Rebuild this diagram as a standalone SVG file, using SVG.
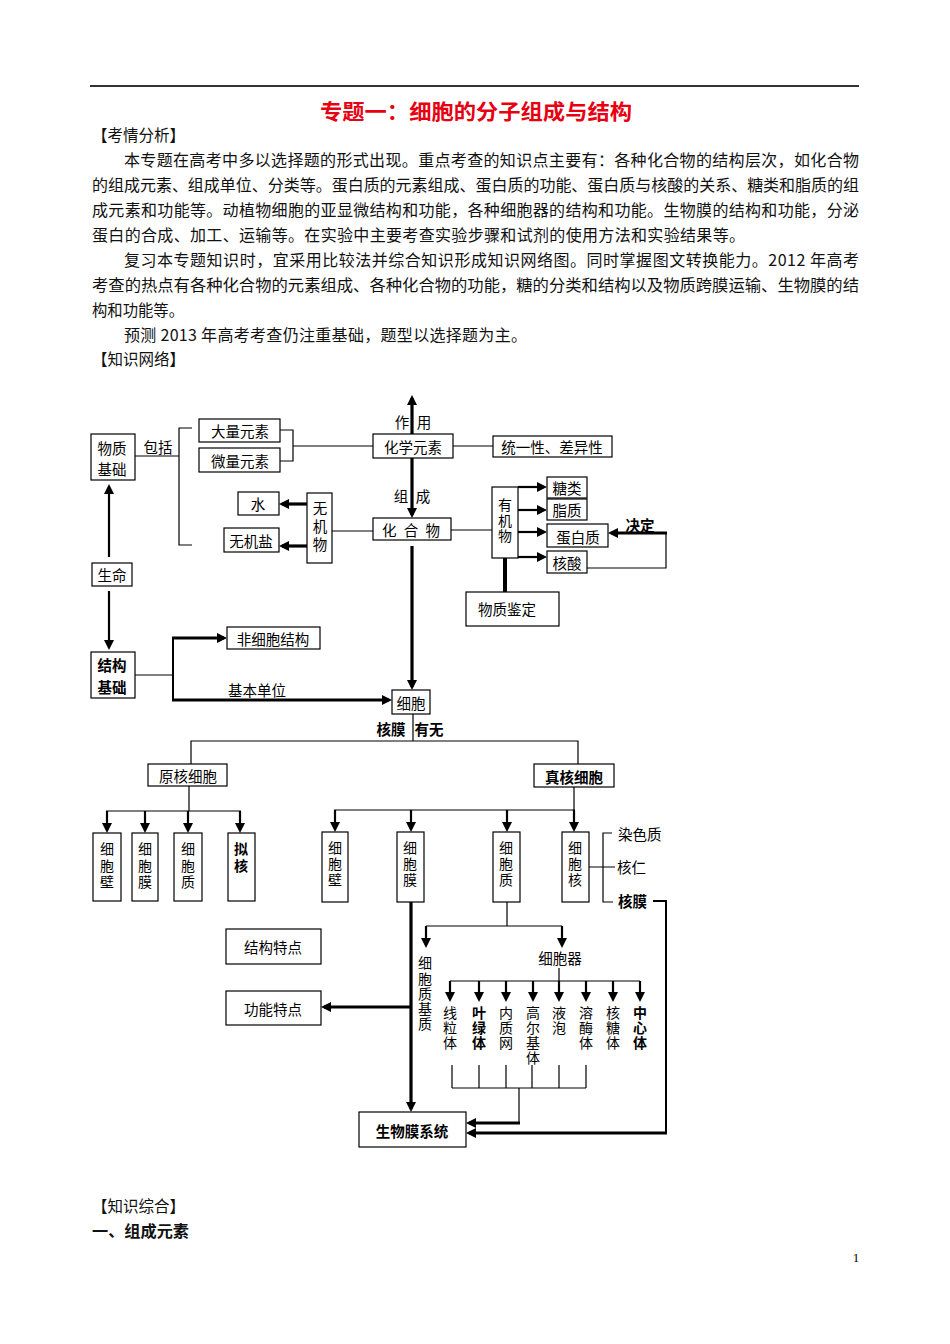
<svg xmlns="http://www.w3.org/2000/svg" width="950" height="1344" viewBox="0 0 950 1344">
<style>
.t{font-family:"Noto Sans CJK SC","Liberation Serif",serif;font-size:16px;fill:#111;dominant-baseline:central}
.d{font-family:"Noto Sans CJK SC","Liberation Sans",sans-serif;font-size:14.5px;fill:#000;text-anchor:middle;dominant-baseline:central}
.vt{font-family:"Noto Sans CJK SC","Liberation Sans",sans-serif;font-size:14px;fill:#000;writing-mode:vertical-rl;text-anchor:start;dominant-baseline:central}
.b{font-weight:bold}
.box{fill:#fff;stroke:#000;stroke-width:1.2}
.ln{fill:none;stroke:#000;stroke-width:1.2}
.md{fill:none;stroke:#000;stroke-width:2}
.th{fill:none;stroke:#000;stroke-width:3.2;marker-end:url(#ah)}
.ar{fill:none;stroke:#000;stroke-width:2.2;marker-end:url(#ah)}
.tk{fill:none;stroke:#000;stroke-width:4}
</style>
<defs>
<marker id="ah" viewBox="0 0 10 10" refX="7" refY="5" markerWidth="10" markerHeight="10" markerUnits="userSpaceOnUse" orient="auto"><path d="M0,0 L10,5 L0,10 z" fill="#000"/></marker>
</defs>
<rect width="950" height="1344" fill="#fff"/>

<g id="page">
<line x1="90" y1="86" x2="859" y2="86" stroke="#333" stroke-width="2"/>
<text x="476" y="110" text-anchor="middle" textLength="312" lengthAdjust="spacingAndGlyphs" style="font-family:'Noto Sans CJK SC',sans-serif;font-size:21px;font-weight:bold;fill:#e60012;dominant-baseline:central">专题一：细胞的分子组成与结构</text>
<text class="t" x="92" y="134" textLength="93" lengthAdjust="spacingAndGlyphs">【考情分析】</text>
<text class="t" x="124" y="159" textLength="735" lengthAdjust="spacing">本专题在高考中多以选择题的形式出现。重点考查的知识点主要有：各种化合物的结构层次，如化合物</text>
<text class="t" x="92" y="184" textLength="767" lengthAdjust="spacingAndGlyphs">的组成元素、组成单位、分类等。蛋白质的元素组成、蛋白质的功能、蛋白质与核酸的关系、糖类和脂质的组</text>
<text class="t" x="92" y="209" textLength="767" lengthAdjust="spacing">成元素和功能等。动植物细胞的亚显微结构和功能，各种细胞器的结构和功能。生物膜的结构和功能，分泌</text>
<text class="t" x="92" y="234" textLength="653" lengthAdjust="spacing">蛋白的合成、加工、运输等。在实验中主要考查实验步骤和试剂的使用方法和实验结果等。</text>
<text class="t" x="124" y="259" textLength="735" lengthAdjust="spacing">复习本专题知识时，宜采用比较法并综合知识形成知识网络图。同时掌握图文转换能力。2012 年高考</text>
<text class="t" x="92" y="284" textLength="767" lengthAdjust="spacingAndGlyphs">考查的热点有各种化合物的元素组成、各种化合物的功能，糖的分类和结构以及物质跨膜运输、生物膜的结</text>
<text class="t" x="92" y="309" textLength="92" lengthAdjust="spacingAndGlyphs">构和功能等。</text>
<text class="t" x="124" y="334" textLength="403" lengthAdjust="spacing">预测 2013 年高考考查仍注重基础，题型以选择题为主。</text>
<text class="t" x="92" y="358" textLength="93" lengthAdjust="spacingAndGlyphs">【知识网络】</text>
<text class="t" x="92" y="1205" textLength="93" lengthAdjust="spacingAndGlyphs">【知识综合】</text>
<text class="t b" x="92" y="1230" textLength="97" lengthAdjust="spacingAndGlyphs">一、组成元素</text>
<text x="856" y="1257" text-anchor="middle" style="font-family:'Liberation Serif',serif;font-size:13px;fill:#000;dominant-baseline:central">1</text>
</g>

<g id="connectors">
<path class="ln" d="M135,456 H179 M192,428 H179 V545 H192"/>
<path class="ln" d="M280,430 H293 V461 H280 M293,446 H373"/>
<path class="ln" d="M453,446 H493"/>
<path class="ln" d="M332,531 H373"/>
<path class="ln" d="M451,530 H492"/>
<path class="ln" d="M587,568 H666 V533"/>
<path class="ln" d="M135,675 H173"/>
<path class="md" d="M173,637 V701"/>
<path class="ln" d="M413,714 V741 M191,764 V741 H578 V764"/>
<path class="ln" d="M189,786 V811 M106,811 H241"/>
<path class="ln" d="M574,787 V810 M334,810 H575"/>
<path class="ln" d="M589,867 H615 M612,833 H603 V902 H613"/>
<path class="md" d="M653,901 H666 V1134"/>
<path class="ln" d="M507,902 V926 M426,926 H562"/>
<path class="ln" d="M559,968 V981 M450,981 H640"/>
<path class="ln" d="M452,1065 V1088 M479,1065 V1088 M506,1065 V1088 M532,1065 V1088 M559,1065 V1088 M586,1065 V1088 M452,1088 H586 M519,1088 V1123"/>
<path class="tk" d="M505,558 V592"/>
<path class="th" d="M412,434 V398"/>
<path class="th" d="M412,458 V515"/>
<path class="th" d="M412,546 V687"/>
<path class="th" d="M307,504 H282"/>
<path class="th" d="M307,546 H282"/>
<path class="ar" d="M518,487 H544"/>
<path class="ar" d="M518,510 H544"/>
<path class="ar" d="M518,532 H544"/>
<path class="ar" d="M518,557 H544"/>
<path class="th" d="M667,533 H611"/>
<path class="ar" d="M109,557 V487"/>
<path class="ar" d="M109,591 V647"/>
<path class="th" d="M172,638 H224"/>
<path class="th" d="M172,700 H389"/>
<path class="ar" d="M107,811 V830"/>
<path class="ar" d="M145,811 V830"/>
<path class="ar" d="M188,811 V830"/>
<path class="ar" d="M240,811 V830"/>
<path class="ar" d="M335,810 V829"/>
<path class="ar" d="M411,810 V829"/>
<path class="ar" d="M507,810 V829"/>
<path class="ar" d="M574,810 V829"/>
<path class="th" d="M411,902 V1109"/>
<path class="th" d="M411,1007 H324"/>
<path class="ar" d="M426,926 V945"/>
<path class="ar" d="M562,926 V945"/>
<path class="ar" d="M450,981 V999"/>
<path class="ar" d="M479,981 V999"/>
<path class="ar" d="M506,981 V999"/>
<path class="ar" d="M533,981 V999"/>
<path class="ar" d="M559,981 V999"/>
<path class="ar" d="M586,981 V999"/>
<path class="ar" d="M613,981 V999"/>
<path class="ar" d="M640,981 V999"/>
<path class="th" d="M520,1123 H469"/>
<path class="th" d="M667,1133 H469"/>
</g>

<g id="labels">
<text class="d" x="158" y="446">包括</text>
<text class="d" x="402" y="421">作</text>
<text class="d" x="424" y="421">用</text>
<text class="d" x="401" y="495">组</text>
<text class="d" x="423" y="495">成</text>
<text class="d b" x="640" y="524">决定</text>
<text class="d" x="257" y="689">基本单位</text>
<text class="d b" x="391" y="728">核膜</text>
<text class="d b" x="429" y="728">有无</text>
<text class="d" x="618" y="833" style="text-anchor:start">染色质</text>
<text class="d" x="617" y="866" style="text-anchor:start">核仁</text>
<text class="d b" x="618" y="900" style="text-anchor:start">核膜</text>
</g>

<g id="n-wuzhijichu"><rect class="box" x="91" y="434" width="44" height="46"/><text class="d"><tspan x="112" y="447">物质</tspan><tspan x="112" y="468">基础</tspan></text></g>
<g id="n-daliang"><rect class="box" x="199" y="419" width="81" height="23"/><text class="d" x="240" y="430">大量元素</text></g>
<g id="n-weiliang"><rect class="box" x="199" y="448" width="81" height="24"/><text class="d" x="240" y="460">微量元素</text></g>
<g id="n-huaxueyuansu"><rect class="box" x="373" y="434" width="80" height="24"/><text class="d" x="413" y="446">化学元素</text></g>
<g id="n-tongyixing"><rect class="box" x="493" y="436" width="119" height="21"/><text class="d" x="552" y="446">统一性、差异性</text></g>
<g id="n-huahewu"><rect class="box" x="373" y="518" width="78" height="22"/><text class="d" x="412" y="529" style="letter-spacing:2px">化 合 物</text></g>
<g id="n-wujiwu"><rect class="box" x="307" y="493" width="25" height="70"/><text class="vt" x="320" y="501" style="font-size:14.5px;letter-spacing:3.5px">无机物</text></g>
<g id="n-shui"><rect class="box" x="238" y="492" width="41" height="23"/><text class="d" x="258" y="503">水</text></g>
<g id="n-wujiyan"><rect class="box" x="224" y="528" width="55" height="24"/><text class="d" x="251" y="540">无机盐</text></g>
<g id="n-youjiwu"><rect class="box" x="492" y="487" width="26" height="71"/><text class="vt" x="505" y="498" style="letter-spacing:1.5px">有机物</text></g>
<g id="n-tanglei"><rect class="box" x="547" y="477" width="40" height="21"/><text class="d" x="567" y="487">糖类</text></g>
<g id="n-zhizhi"><rect class="box" x="547" y="499" width="40" height="21"/><text class="d" x="567" y="509">脂质</text></g>
<g id="n-danbaizhi"><rect class="box" x="547" y="524" width="61" height="23"/><text class="d" x="578" y="536">蛋白质</text></g>
<g id="n-hesuan"><rect class="box" x="547" y="551" width="40" height="22"/><text class="d" x="567" y="562">核酸</text></g>
<g id="n-wuzhijianding"><rect class="box" x="466" y="592" width="93" height="34"/><text class="d" x="507" y="608">物质鉴定</text></g>
<g id="n-shengming"><rect class="box" x="92" y="563" width="40" height="23"/><text class="d" x="112" y="574">生命</text></g>
<g id="n-jiegoujichu"><rect class="box" x="91" y="652" width="44" height="46"/><text class="d b"><tspan x="112" y="664">结构</tspan><tspan x="112" y="686">基础</tspan></text></g>
<g id="n-feixibao"><rect class="box" x="227" y="627" width="93" height="22"/><text class="d" x="273" y="638">非细胞结构</text></g>
<g id="n-xibao"><rect class="box" x="392" y="690" width="38" height="24"/><text class="d" x="411" y="702">细胞</text></g>
<g id="n-yuanhe"><rect class="box" x="148" y="764" width="79" height="22"/><text class="d" x="188" y="775">原核细胞</text></g>
<g id="n-zhenhe"><rect class="box" x="534" y="764" width="80" height="23"/><text class="d b" x="574" y="776">真核细胞</text></g>
<g id="n-p-bi"><rect class="box" x="93" y="833" width="28" height="68"/><text class="vt" x="107" y="842" style="letter-spacing:2.5px">细胞壁</text></g>
<g id="n-p-mo"><rect class="box" x="132" y="833" width="26" height="68"/><text class="vt" x="145" y="842" style="letter-spacing:2.5px">细胞膜</text></g>
<g id="n-p-zhi"><rect class="box" x="174" y="833" width="28" height="68"/><text class="vt" x="188" y="842" style="letter-spacing:2.5px">细胞质</text></g>
<g id="n-p-nihe"><rect class="box" x="228" y="833" width="27" height="68"/><text class="vt b" x="241" y="842" style="letter-spacing:2.5px">拟核</text></g>
<g id="n-e-bi"><rect class="box" x="322" y="832" width="26" height="70"/><text class="vt" x="335" y="841" style="letter-spacing:2px">细胞壁</text></g>
<g id="n-e-mo"><rect class="box" x="397" y="832" width="27" height="70"/><text class="vt" x="410" y="841" style="letter-spacing:2px">细胞膜</text></g>
<g id="n-e-zhi"><rect class="box" x="493" y="832" width="27" height="70"/><text class="vt" x="506" y="841" style="letter-spacing:2px">细胞质</text></g>
<g id="n-e-he"><rect class="box" x="562" y="832" width="27" height="70"/><text class="vt" x="575" y="841" style="letter-spacing:2px">细胞核</text></g>
<g id="n-jiegoutedian"><rect class="box" x="226" y="929" width="95" height="35"/><text class="d" x="273" y="946">结构特点</text></g>
<g id="n-gongnengtedian"><rect class="box" x="226" y="991" width="95" height="34"/><text class="d" x="273" y="1008">功能特点</text></g>
<g id="n-jizhi"><text class="vt" x="425" y="956" style="letter-spacing:1.2px">细胞质基质</text></g>
<g id="n-xibaoqi"><text class="d" x="560" y="957">细胞器</text></g>
<g id="n-xianliti"><text class="vt" x="450" y="1006" style="letter-spacing:1px">线粒体</text></g>
<g id="n-yelvti"><text class="vt b" x="479" y="1006" style="letter-spacing:1px">叶绿体</text></g>
<g id="n-neizhiwang"><text class="vt" x="506" y="1006" style="letter-spacing:1px">内质网</text></g>
<g id="n-gaoerji"><text class="vt" x="533" y="1006" style="letter-spacing:1px">高尔基体</text></g>
<g id="n-yepao"><text class="vt" x="559" y="1006" style="letter-spacing:1px">液泡</text></g>
<g id="n-rongmeiti"><text class="vt" x="586" y="1006" style="letter-spacing:1px">溶酶体</text></g>
<g id="n-hetangti"><text class="vt" x="613" y="1006" style="letter-spacing:1px">核糖体</text></g>
<g id="n-zhongxinti"><text class="vt b" x="640" y="1006" style="letter-spacing:1px">中心体</text></g>
<g id="n-shengwumo"><rect class="box" x="359" y="1112" width="107" height="35"/><text class="d b" x="412" y="1130">生物膜系统</text></g>
</svg>
